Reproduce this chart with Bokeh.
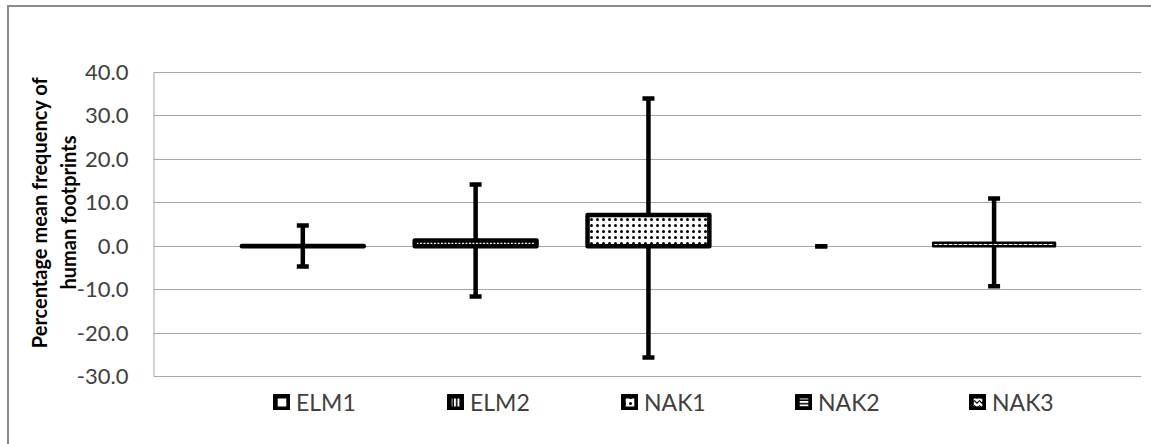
from bokeh.plotting import figure
from bokeh.models import (ColumnDataSource, Range1d, FixedTicker, NumeralTickFormatter,
                          Whisker, TeeHead, Legend, LegendItem, InlineStyleSheet)
from bokeh.embed import file_html
from bokeh.resources import INLINE

# Sites (one series each) with mean and error-bar extents
sites = ["ELM1", "ELM2", "NAK1", "NAK2", "NAK3"]
means = [0.05, 1.3, 7.2, 0.0, 0.8]
err_plus = [4.7, 12.9, 26.8, 0.0, 10.2]
err_minus = [4.7, 12.9, 32.8, 0.0, 10.0]
y_ticks = [-30, -20, -10, 0, 10, 20, 30, 40]

FONT = "Lato"
TXT = "#404040"

# the frame is taller than the tick extent: the legend sits in its lower part
x_range = Range1d(0.136, 5.853)
y_range = Range1d(-40.13, 55.65)

p = figure(width=1151, height=444, output_backend="svg", toolbar_location=None,
           x_range=x_range, y_range=y_range,
           min_border_left=153, min_border_right=10, min_border_top=4,
           min_border_bottom=24)
# thin grey frame around the whole chart area
p.stylesheets = [InlineStyleSheet(css="""
:host::after {
  content: "";
  position: absolute;
  left: 7px; top: 5px; width: 1300px; height: 600px;
  box-sizing: border-box;
  border: 2px solid #8a8a8a;
  pointer-events: none;
}
""")]
p.outline_line_color = None
p.background_fill_color = "white"
p.border_fill_color = "white"
p.xaxis.visible = False
p.xgrid.visible = False
p.ygrid.grid_line_color = "#a6a6a6"
p.ygrid.grid_line_width = 1

ax = p.yaxis[0]
ax.ticker = FixedTicker(ticks=y_ticks)
ax.formatter = NumeralTickFormatter(format="0.0")
ax.axis_line_color = None
ax.major_tick_line_color = None
ax.minor_tick_line_color = None
ax.major_tick_out = 0
ax.major_label_standoff = 25
ax.major_label_text_font = FONT
ax.major_label_text_font_size = "22px"
ax.major_label_text_color = TXT
ax.axis_label = "Percentage mean frequency of\nhuman footprints"
ax.axis_label_text_font = FONT
ax.axis_label_text_font_style = "bold"
ax.axis_label_text_font_size = "20px"
ax.axis_label_text_color = "black"
ax.axis_label_standoff = -6

# value-axis line spanning only the tick extent
p.segment(x0=[x_range.start], y0=[y_ticks[0]], x1=[x_range.start], y1=[y_ticks[-1]],
          line_color="#a6a6a6", line_width=2)

xs = list(range(1, len(sites) + 1))
lower = [m - e for m, e in zip(means, err_minus)]
upper = [m + e for m, e in zip(means, err_plus)]

styles = {
    "ELM1": dict(hatch_pattern=" ", line_width=4.5),
    "ELM2": dict(hatch_pattern="vertical_line", hatch_scale=3.5, hatch_weight=1.6, line_width=4.5),
    "NAK1": dict(hatch_pattern="dot", hatch_scale=6, hatch_weight=1.0, line_width=4.5),
    "NAK2": dict(hatch_pattern="horizontal_line", hatch_scale=3.5, hatch_weight=1.6, line_width=4.5),
    "NAK3": dict(hatch_pattern="horizontal_wave", hatch_scale=5, hatch_weight=1.2, line_width=2.5),
}

items = []
for i, name in enumerate(sites):
    st = styles[name]
    if means[i] != 0:
        src = ColumnDataSource(dict(x=[xs[i]], top=[means[i]]))
        p.vbar(x="x", top="top", bottom=0, width=0.705, source=src,
               fill_color="white", line_color="black", line_join="round",
               hatch_color="black", **st)
    # legend swatch: a zero-size box at the bar base carrying the series style
    sw = p.vbar(x="x", top=0, bottom=0, width=0,
                source=ColumnDataSource(dict(x=[xs[i]])),
                fill_color="white", line_color="black", line_join="round",
                hatch_color="black", **dict(st, line_width=5))
    items.append(LegendItem(label=name, renderers=[sw]))

err_src = ColumnDataSource(dict(x=xs, lower=lower, upper=upper))
p.add_layout(Whisker(source=err_src, base="x", lower="lower", upper="upper",
                     line_width=4.5, line_color="black",
                     upper_head=TeeHead(size=12, line_width=4.5, line_color="black"),
                     lower_head=TeeHead(size=12, line_width=4.5, line_color="black")))

legend = Legend(items=items, orientation="horizontal", location=(120, 4),
                glyph_width=17, glyph_height=16, label_standoff=6, label_width=151,
                spacing=0, padding=0, margin=0, border_line_color=None,
                background_fill_alpha=0, label_text_font=FONT,
                label_text_font_size="23px", label_text_color=TXT,
                label_height=22)
p.add_layout(legend, "center")

open("out.html", "w").write(file_html(p, INLINE))
